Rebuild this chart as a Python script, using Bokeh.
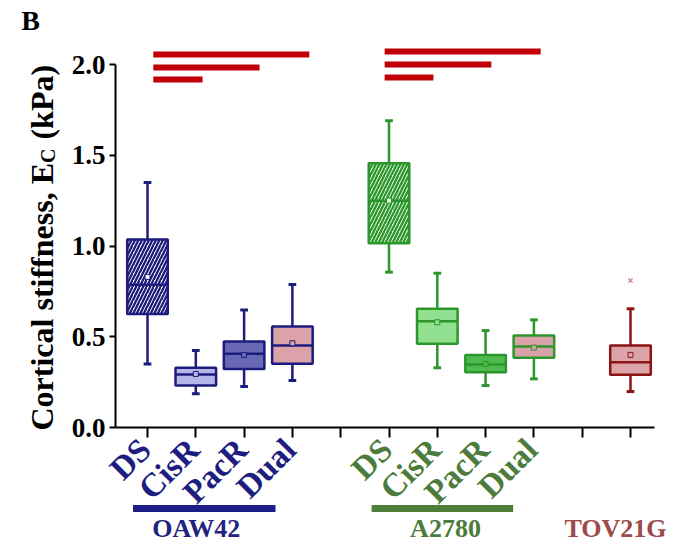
import math
from bokeh.plotting import figure
from bokeh.models import Range1d, FixedTicker, ColumnDataSource, CustomLabelingPolicy
from bokeh.transform import dodge
from bokeh.core.properties import value
from bokeh.embed import file_html
from bokeh.resources import INLINE

# ---------------- data ----------------
positions = [1, 2, 3, 4, 6, 7, 8, 9, 11]
conditions = ["DS", "CisR", "PacR", "Dual", "DS", "CisR", "PacR", "Dual", ""]
whisker_low = [0.35, 0.186, 0.226, 0.259, 0.856, 0.329, 0.231, 0.268, 0.198]
q1 = [0.626, 0.231, 0.323, 0.351, 1.015, 0.461, 0.305, 0.384, 0.29]
median = [0.786, 0.292, 0.406, 0.452, 1.25, 0.586, 0.347, 0.446, 0.36]
q3 = [1.036, 0.329, 0.474, 0.556, 1.456, 0.654, 0.40, 0.507, 0.452]
whisker_high = [1.35, 0.424, 0.648, 0.788, 1.69, 0.85, 0.534, 0.593, 0.654]
means = [0.83, 0.295, 0.40, 0.464, 1.25, 0.58, 0.35, 0.44, 0.40]
outlier_pos = [11]
outlier_val = [0.81]

tick_positions = [1, 2, 3, 4, 5, 6, 7, 8, 9, 10, 11]
y_ticks = [0.0, 0.5, 1.0, 1.5, 2.0]

sig_y = [2.055, 1.983, 1.917, 2.072, 2.0, 1.928]
sig_start = [1.12, 1.12, 1.12, 5.91, 5.91, 5.91]
sig_end = [4.35, 3.32, 2.14, 9.14, 8.12, 6.92]

group_names = ["OAW42", "A2780", "TOV21G"]
group_label_x = [2.01, 7.17, 10.69]
group_bar_start = [0.70, 5.64]
group_bar_end = [3.65, 8.57]

# ---------------- styles ----------------
NAVY = "#1c1c7c"
GREEN = "#2c962c"
DRED = "#8c1414"
box_line = [NAVY] * 4 + [GREEN] * 4 + [DRED]
box_fill = ["#ffffff", "#b6b6e8", "#6868b4", "#dba2aa",
            "#e6f7e2", "#90e090", "#4fbb4f", "#d8a2a8", "#dca4a8"]
box_hatch = ["/", " ", " ", " ", "/", " ", " ", " ", " "]
label_colors = ["#1e1e80"] * 4 + ["#4b7c3b"] * 4 + [None]
group_colors = ["#222280", "#4b7b3b", "#9c4a4a"]
bar_colors = ["#1e1e8a", "#4e7e3a"]
SERIF = "Liberation Serif"

W, H = 667, 543
PX_X = 48.3     # pixels per x unit
PX_Y = 181.5    # pixels per y unit
x0_px, y0_px = 147, 427   # pixel of x=1 and y=0
xr = Range1d(1 - x0_px / PX_X, 1 + (W - x0_px) / PX_X)
yr = Range1d(-(H - y0_px) / PX_Y, y0_px / PX_Y)

p = figure(width=W, height=H, output_backend="svg", toolbar_location=None,
           x_range=xr, y_range=yr, min_border=0, min_border_left=0,
           min_border_right=0, min_border_top=0, min_border_bottom=0)
p.outline_line_color = None
p.grid.visible = False
p.background_fill_color = "white"
p.border_fill_color = "white"

# axes at fixed locations
yaxis_x = 1 + (115 - x0_px) / PX_X
p.xaxis.fixed_location = 0
p.xaxis.bounds = (yaxis_x, 11.5)
p.xaxis.ticker = FixedTicker(ticks=tick_positions)
p.xaxis.major_label_policy = CustomLabelingPolicy(code="return []")
p.xaxis.major_tick_out = 10
p.xaxis.major_tick_in = 0
p.xaxis.minor_tick_line_color = None
p.xaxis.axis_line_width = 2
p.xaxis.major_tick_line_width = 2
p.xaxis.axis_line_color = "black"

p.yaxis.fixed_location = yaxis_x
p.yaxis.bounds = (0, 2)
p.yaxis.ticker = FixedTicker(ticks=y_ticks)
p.yaxis.major_label_overrides = {t: f"{t:.1f}" for t in y_ticks}
p.yaxis.major_label_text_font = SERIF
p.yaxis.major_label_text_font_style = "bold"
p.yaxis.major_label_text_font_size = "27px"
p.yaxis.major_label_text_color = "black"
p.yaxis.major_label_standoff = 4
p.yaxis.major_tick_out = 6
p.yaxis.major_tick_in = 0
p.yaxis.minor_tick_line_color = None
p.yaxis.axis_line_width = 2
p.yaxis.major_tick_line_width = 2

# ---------------- boxes ----------------
src = ColumnDataSource(dict(x=positions, lo=whisker_low, q1=q1, med=median, q3=q3,
                            hi=whisker_high, mean=means, lc=box_line, fc=box_fill,
                            hp=box_hatch))
bw = 0.84
cw = 0.16
p.segment(x0="x", y0="q3", x1="x", y1="hi", source=src, line_color="lc", line_width=2.5)
p.segment(x0="x", y0="lo", x1="x", y1="q1", source=src, line_color="lc", line_width=2.5)
p.vbar(x="x", width=bw, bottom="q1", top="q3", source=src, fill_color="fc",
       line_color="lc", line_width=2.5, hatch_pattern="hp", hatch_color="lc",
       hatch_scale=7, hatch_weight=2.3)
p.segment(x0=dodge("x", -bw / 2), y0="med", x1=dodge("x", bw / 2), y1="med",
          source=src, line_color="lc", line_width=2.5)
p.segment(x0=dodge("x", -cw / 2), y0="hi", x1=dodge("x", cw / 2), y1="hi",
          source=src, line_color="lc", line_width=3)
p.segment(x0=dodge("x", -cw / 2), y0="lo", x1=dodge("x", cw / 2), y1="lo",
          source=src, line_color="lc", line_width=3)
p.scatter(x="x", y="mean", source=src, marker="square", size=5,
          line_color="lc", fill_color="fc", line_width=1)
p.scatter(x=outlier_pos, y=outlier_val, marker="x", size=6, line_color="#c07878", line_width=1.2)

# ---------------- significance bars ----------------
p.segment(x0=sig_start, y0=sig_y, x1=sig_end, y1=sig_y, line_color="#c00006",
          line_width=6, line_cap="butt")

# ---------------- tick labels ----------------
tl_x = [x - 0.31 for x, c in zip(positions, conditions) if c]
tl_y = [-0.022] * len(tl_x)
tl_t = [c for c in conditions if c]
tl_c = [c for c in label_colors if c]
p.text(x=tl_x, y=tl_y, text=tl_t, text_color=tl_c, angle=math.pi / 4,
       text_align="right", text_baseline="top", text_font=value(SERIF),
       text_font_style="bold", text_font_size="33px")

# group bars and labels
bar_y = -(508 - y0_px) / PX_Y
p.segment(x0=group_bar_start, y0=[bar_y] * 2, x1=group_bar_end, y1=[bar_y] * 2,
          line_color=bar_colors, line_width=7, line_cap="butt")
lab_y = -(528 - y0_px) / PX_Y
p.text(x=group_label_x, y=[lab_y] * 3, text=group_names, text_color=group_colors,
       text_align="center", text_baseline="middle", text_font=value(SERIF),
       text_font_style="bold", text_font_size="26px")

# panel letter
p.text(x=[1 + (30 - x0_px) / PX_X], y=[(y0_px - 20) / PX_Y], text=["B"],
       text_color="black", text_align="center", text_baseline="middle",
       text_font=value(SERIF), text_font_style="bold", text_font_size="28px")

# y axis label with subscript
fs, fs_sub = 32, 20
ylab0 = -(430 - y0_px) / PX_Y
main_len = 8.36 * fs / PX_Y
sub_len = (0.722 * fs_sub + 9) / PX_Y
xb = 1 + (41 - x0_px) / PX_X
common = dict(angle=math.pi / 2, text_align="left", text_baseline="alphabetic",
              text_color="black", text_font=value(SERIF), text_font_style="bold")
p.text(x=[xb], y=[ylab0], text=["Cortical stiffness, E"], text_font_size=f"{fs}px", **common)
p.text(x=[xb + 6 / PX_X], y=[ylab0 + main_len], text=["C"], text_font_size=f"{fs_sub}px", **common)
p.text(x=[xb], y=[ylab0 + main_len + sub_len], text=["(kPa)"], text_font_size=f"{fs}px", **common)

open("out.html", "w").write(file_html(p, INLINE))
